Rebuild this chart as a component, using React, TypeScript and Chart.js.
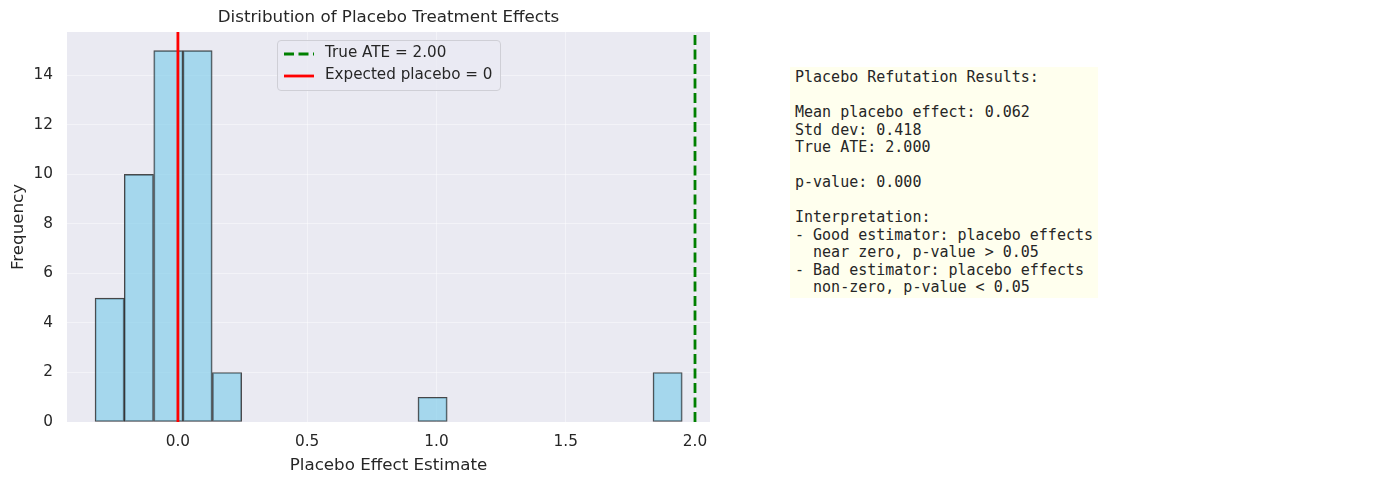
import React, { useEffect, useRef } from 'react';
import { Chart, registerables } from 'chart.js';

Chart.register(...registerables);

// === Data ===
const BIN_CENTERS = [
  -0.264, -0.151, -0.037, 0.076, 0.19, 0.304, 0.417, 0.531, 0.644, 0.758,
  0.872, 0.985, 1.099, 1.212, 1.326, 1.44, 1.553, 1.667, 1.78, 1.894,
];
const BIN_COUNTS = [5, 10, 15, 15, 2, 0, 0, 0, 0, 0, 0, 1, 0, 0, 0, 0, 0, 0, 0, 2];
const TRUE_ATE = 2.0;
const EXPECTED_PLACEBO = 0;
const X_TICKS = [0, 0.5, 1.0, 1.5, 2.0];
const Y_TICKS = [0, 2, 4, 6, 8, 10, 12, 14];
const X_RANGE = [-0.429, 2.058];
const Y_RANGE = [0, 15.75];

const TITLE = 'Distribution of Placebo Treatment Effects';
const SUMMARY_LINES = [
  'Placebo Refutation Results:',
  '',
  'Mean placebo effect: 0.062',
  'Std dev: 0.418',
  'True ATE: 2.000',
  '',
  'p-value: 0.000',
  '',
  'Interpretation:',
  '- Good estimator: placebo effects',
  '  near zero, p-value > 0.05',
  '- Bad estimator: placebo effects',
  '  non-zero, p-value < 0.05',
];

const TEXT = '#262626';
const FONT = '"DejaVu Sans", sans-serif';

// paint the seaborn-style axes background
const bgPlugin = {
  id: 'axesBg',
  beforeDraw(chart: any) {
    const { ctx, chartArea } = chart;
    ctx.save();
    ctx.fillStyle = '#EAEAF2';
    ctx.fillRect(chartArea.left, chartArea.top, chartArea.right - chartArea.left, chartArea.bottom - chartArea.top);
    ctx.restore();
  },
};

// title centred over the axes, like matplotlib's ax.set_title
const axesTitlePlugin = {
  id: 'axesTitle',
  afterDraw(chart: any) {
    const { ctx, chartArea } = chart;
    ctx.save();
    ctx.fillStyle = TEXT;
    ctx.font = `16.7px ${FONT}`;
    ctx.textAlign = 'center';
    ctx.textBaseline = 'middle';
    ctx.fillText(TITLE, (chartArea.left + chartArea.right) / 2, chartArea.top - 14);
    ctx.restore();
  },
};

const App: React.FC = () => {
  const canvasRef = useRef<HTMLCanvasElement>(null);

  useEffect(() => {
    if (!canvasRef.current) return;
    const chart = new Chart(canvasRef.current, {
      type: 'bar',
      data: {
        datasets: [
          {
            type: 'line' as const,
            label: 'True ATE = 2.00',
            data: [{ x: TRUE_ATE, y: Y_RANGE[0] }, { x: TRUE_ATE, y: Y_RANGE[1] }],
            borderColor: 'green',
            borderWidth: 2.8,
            borderDash: [10, 4.5],
            pointRadius: 0,
            order: 0,
          },
          {
            type: 'line' as const,
            label: 'Expected placebo = 0',
            data: [{ x: EXPECTED_PLACEBO, y: Y_RANGE[0] }, { x: EXPECTED_PLACEBO, y: Y_RANGE[1] }],
            borderColor: 'red',
            borderWidth: 2.8,
            pointRadius: 0,
            order: 0,
          },
          {
            type: 'bar' as const,
            label: 'Placebo effects',
            data: BIN_CENTERS.map((x, i) => ({ x, y: BIN_COUNTS[i] })),
            backgroundColor: 'rgba(135,206,235,0.7)',
            borderColor: 'rgba(0,0,0,0.7)',
            borderWidth: 1.2,
            borderSkipped: false,
            barPercentage: 1,
            categoryPercentage: 1,
            order: 1,
          },
        ],
      },
      options: {
        animation: false,
        responsive: true,
        maintainAspectRatio: false,
        layout: { padding: { left: 0, right: 30, top: 32, bottom: 0 } },
        plugins: {
          legend: { display: false },
          tooltip: { enabled: false },
          title: { display: false },
        },
        scales: {
          x: {
            type: 'linear',
            offset: false,
            min: X_RANGE[0],
            max: X_RANGE[1],
            afterFit: (s: any) => { s.height = 62; },
            afterBuildTicks: (s: any) => { s.ticks = X_TICKS.map(v => ({ value: v })); },
            ticks: {
              color: TEXT,
              font: { family: FONT, size: 15.3 },
              padding: 11,
              maxRotation: 0,
              callback: (v: any) => Number(v).toFixed(1),
            },
            grid: { color: 'rgba(255,255,255,0.45)', drawTicks: false, offset: false },
            border: { display: false },
            title: {
              display: true,
              text: 'Placebo Effect Estimate',
              color: TEXT,
              font: { family: FONT, size: 16.7 },
              padding: { top: 4, bottom: 8 },
            },
          },
          y: {
            type: 'linear',
            min: Y_RANGE[0],
            max: Y_RANGE[1],
            afterFit: (s: any) => { s.width = 67; },
            afterBuildTicks: (s: any) => { s.ticks = Y_TICKS.map(v => ({ value: v })); },
            ticks: {
              color: TEXT,
              font: { family: FONT, size: 15.3 },
              padding: 14,
            },
            grid: { color: 'rgba(255,255,255,0.45)', drawTicks: false },
            border: { display: false },
            title: {
              display: true,
              text: 'Frequency',
              color: TEXT,
              font: { family: FONT, size: 16.7 },
              padding: { top: 9, bottom: 4 },
            },
          },
        },
      },
      plugins: [bgPlugin, axesTitlePlugin],
    });
    return () => chart.destroy();
  }, []);

  return (
    <div style={{ position: 'fixed', left: 0, top: 0, width: 1384, height: 484, background: '#fff', fontFamily: FONT }}>
      <div style={{ position: 'absolute', left: 0, top: 0, width: 740, height: 484 }}>
        <canvas ref={canvasRef} />
      </div>

      {/* in-axes legend */}
      <div
        style={{
          position: 'absolute', left: 277, top: 40, width: 224, height: 51, boxSizing: 'border-box',
          background: 'rgba(234,234,242,0.8)', border: '1px solid #cfcfd6', borderRadius: 4,
          color: TEXT, fontSize: 15.2,
        }}
      >
        <svg style={{ position: 'absolute', left: 5, top: 6 }} width={32} height={40}>
          <line x1={1} y1={7} x2={31} y2={7} stroke="green" strokeWidth={2.8} strokeDasharray="10,4.5" />
          <line x1={1} y1={29} x2={31} y2={29} stroke="red" strokeWidth={2.8} />
        </svg>
        <div style={{ position: 'absolute', left: 47, top: 2, lineHeight: '19px', whiteSpace: 'nowrap' }}>True ATE = 2.00</div>
        <div style={{ position: 'absolute', left: 47, top: 24, lineHeight: '19px', whiteSpace: 'nowrap' }}>Expected placebo = 0</div>
      </div>

      {/* summary text box */}
      <pre
        style={{
          position: 'absolute', left: 790, top: 67, width: 308, height: 231, boxSizing: 'border-box', margin: 0,
          padding: '2px 5px', background: '#FFFFEE', color: TEXT,
          fontFamily: '"DejaVu Sans Mono", monospace', fontSize: 15, lineHeight: '17.5px',
        }}
      >
        {SUMMARY_LINES.join('\n')}
      </pre>
    </div>
  );
};

export default App;
